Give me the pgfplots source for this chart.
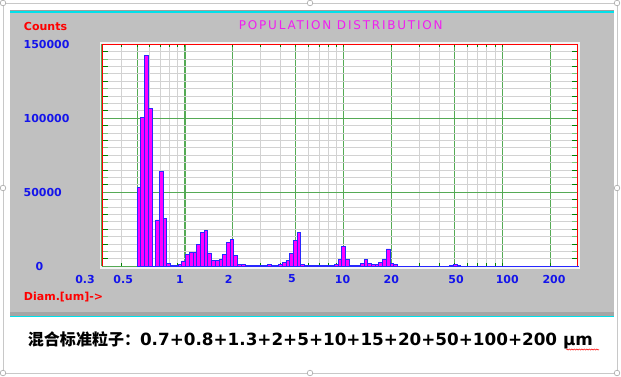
\documentclass[border=0pt]{standalone}
\usepackage{pgfplots}
\pgfplotsset{compat=1.18}
\usepackage{pgfplotstable}
\usepackage{fontspec}
\setmainfont{DejaVu Sans}
\newfontfamily\cjk{Noto Sans CJK SC}
\usetikzlibrary{decorations.pathmorphing}
\definecolor{panel}{RGB}{192,192,192}
\definecolor{panelband}{RGB}{165,165,165}
\definecolor{cyanline}{RGB}{0,225,235}
\definecolor{gridgreen}{RGB}{85,170,85}
\definecolor{gridgray}{RGB}{210,210,210}
\definecolor{tickdark}{RGB}{0,128,0}
\definecolor{ticklight}{RGB}{120,195,120}
\definecolor{barfill}{RGB}{255,0,255}
\definecolor{baredge}{RGB}{40,40,255}
\definecolor{lblblue}{RGB}{20,20,235}
\definecolor{ttlmag}{RGB}{240,30,240}
\definecolor{framegray}{RGB}{200,200,200}

% bin lower edges (um) and counts; last row closes the final interval
\pgfplotstableread{
d h
0.500000 53100
0.527725 100700
0.556987 142600
0.587872 106800
0.620469 0
0.654874 31300
0.691187 64200
0.729513 32400
0.769964 2000
0.812659 800
0.857721 300
0.905282 1500
0.955480 3600
1.008461 8300
1.064380 9500
1.123400 9500
1.185693 14900
1.251440 23000
1.320832 24300
1.394072 9000
1.471373 3800
1.552961 3800
1.639073 4700
1.729960 8300
1.825886 16200
1.927131 18000
2.033990 7000
2.146775 1500
2.265814 1500
2.391453 800
2.524060 300
2.664019 300
2.811739 300
2.967650 600
3.132206 800
3.305887 1500
3.489198 300
3.682674 300
3.886878 1500
4.102405 2900
4.329883 3800
4.569975 8500
4.823380 17200
5.090836 23100
5.373123 1500
5.671063 500
5.985523 300
8.733045 1300
9.217292 4700
9.728391 13500
10.267830 4700
10.837182 800
11.438104 300
12.741759 2200
13.448290 4300
14.193998 1800
14.981055 1300
15.811755 1300
16.688517 2700
17.613895 4800
18.590586 11700
19.621434 2200
20.709443 1000
21.857782 200
46.529000 800
49.109000 1300
51.832000 300
54.706000 100
300.000000 0
}\bins

\newcommand{\lblfont}{\fontsize{11bp}{13bp}\selectfont\bfseries}

\begin{document}
\begin{tikzpicture}[x=1bp,y=1bp]
\useasboundingbox (0,0) rectangle (621,376);
\fill[white] (0,0) rectangle (621,376);
% selection frame of the embedded picture
\draw[framegray, line width=0.8bp] (3,3) rectangle (617,373);
% grey panel
\fill[panel] (9.5,58.7) rectangle (613.8,366);
\fill[gray!75] (9.5,365) rectangle (613.8,366);
\fill[cyanline] (9.5,363.2) rectangle (613.8,365);
\fill[panelband] (9.5,60) rectangle (613.8,63.7);
\fill[cyanline] (9.5,58.7) rectangle (613.8,60);
% white bevel round the plot
\draw[white!92!gray, line width=2bp] (100.5,107.7) rectangle (579.2,333.5);

\begin{axis}[
  at={(102bp,109.7bp)}, anchor=south west,
  scale only axis, width=476bp, height=222bp,
  xmode=log, xmin=0.3, xmax=300, ymin=0, ymax=150000,
  scaled y ticks=false,
  clip=false,
  axis line style={draw=none},
  axis background/.style={fill=white},
  xtick={0.3,0.5,1,2,5,10,20,50,100,200},
  xticklabels={{\hspace*{-34bp}0.3},{\hspace*{-28bp}0.5},{\hspace*{-10bp}1},{\hspace*{-8bp}2},{\hspace*{-8bp}5},{\hspace*{-2bp}10},20,{\hspace*{3bp}50},{\hspace*{10bp}100},{\hspace*{8bp}200}},
  minor xtick={0.4,0.6,0.7,0.8,0.9,3,4,6,7,8,9,30,40,60,70,80,90},
  ytick={0,50000,100000,150000},
  yticklabels={{\hspace*{12bp}0},50000,100000,150000},
  minor ytick={5000,10000,15000,20000,25000,30000,35000,40000,45000,55000,60000,65000,70000,75000,80000,85000,90000,95000,105000,110000,115000,120000,125000,130000,135000,140000,145000},
  grid=both,
  major grid style={draw=gridgreen, line width=1.1bp},
  minor grid style={draw=gridgray, line width=1.1bp},
  tick align=inside,
  major tick length=3bp, minor tick length=3bp,
  xtick style={draw=tickdark, line width=1bp},
  ytick style={draw=none},
  every tick label/.append style={font=\lblfont, text=lblblue, inner sep=0pt},
  xticklabel style={font=\lblfont, anchor=center, yshift=-12.7bp},
  yticklabel style={font=\lblfont, anchor=west, xshift=-78.6bp},
]
\addplot[ybar interval, fill=barfill, draw=baredge, line width=0.9bp] table[x=d, y=h] {\bins};
\end{axis}

% dark green y ticks (odd multiples of 5000)
\begin{axis}[
  at={(102bp,109.7bp)}, anchor=south west,
  scale only axis, width=476bp, height=222bp,
  xmode=log, xmin=0.3, xmax=300, ymin=0, ymax=150000,
  scaled y ticks=false,
  hide x axis, axis line style={draw=none},
  ytick={5000,15000,25000,35000,45000,55000,65000,75000,85000,95000,105000,115000,125000,135000,145000},
  yticklabels={},
  tick align=inside, major tick length=6.5bp,
  ytick style={draw=tickdark, line width=1.1bp},
]
\end{axis}
% light green y ticks (multiples of 10000)
\begin{axis}[
  at={(102bp,109.7bp)}, anchor=south west,
  scale only axis, width=476bp, height=222bp,
  xmode=log, xmin=0.3, xmax=300, ymin=0, ymax=150000,
  scaled y ticks=false,
  hide x axis, axis line style={draw=none},
  ytick={10000,20000,30000,40000,60000,70000,80000,90000,110000,120000,130000,140000},
  yticklabels={},
  tick align=inside, major tick length=6.5bp,
  ytick style={draw=ticklight, line width=1.1bp},
]
\end{axis}

% red plot border (left, top, right)
\draw[red, line width=1.3bp] (102.6,109.7) -- (102.6,331.2) -- (577.2,331.2) -- (577.2,109.7);

% texts
\node[anchor=west, inner sep=0pt, text=red, font=\lblfont] at (23.8,350) {Counts};
\node[inner sep=0pt, text=ttlmag, font=\fontsize{12bp}{14bp}\selectfont\addfontfeatures{LetterSpace=15}] at (340.8,351) {POPULATION DISTRIBUTION};
\node[anchor=west, inner sep=0pt, text=red, font=\lblfont] at (23.8,79) {Diam.[um]->};

\node[anchor=west, inner sep=0pt] at (27.8,36) {{\cjk\bfseries\fontsize{16bp}{18bp}\selectfont 混合标准粒子：}{\bfseries\fontsize{16.8bp}{19bp}\selectfont 0.7+0.8+1.3+2+5+10+15+20+50+100+200 µm}};
\draw[red, line width=0.5bp, decorate, decoration={snake, amplitude=0.6bp, segment length=2.5bp}] (566,26.5) -- (599,26.5);

% selection handles
\foreach \p in {(3,3),(310,3),(617,3),(3,188),(617,188),(3,373),(310,373),(617,373)}
  \draw[fill=white, draw=gray!70, line width=0.6bp] \p circle (2.8);
\end{tikzpicture}
\end{document}
